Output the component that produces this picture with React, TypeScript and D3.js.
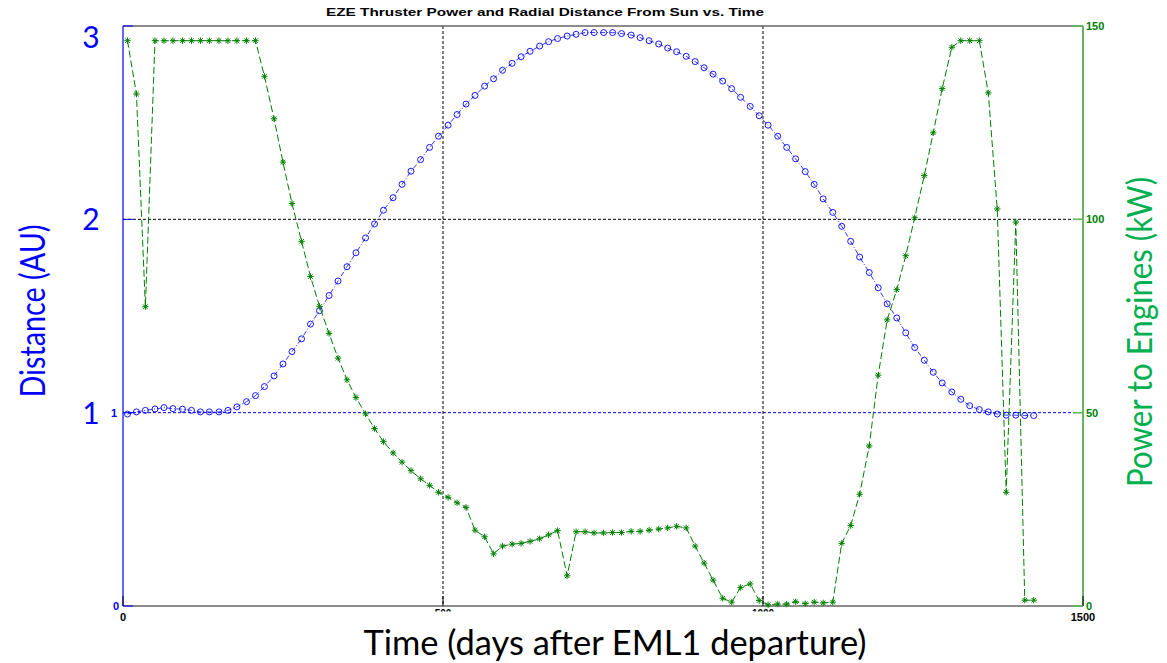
import {useEffect, useRef} from "react";
import * as d3 from "d3";

// Sample times (days after departure)
const days = [
    7, 21, 35, 50, 64, 78, 93, 107, 121, 135,
    150, 164, 178, 193, 207, 221, 236, 250, 264, 279,
    293, 307, 322, 336, 350, 364, 379, 393, 407, 422,
    436, 450, 465, 479, 493, 508, 522, 536, 550, 565,
    579, 593, 608, 622, 636, 651, 665, 679, 694, 708,
    722, 736, 751, 765, 779, 794, 808, 822, 837, 851,
    865, 880, 894, 908, 922, 937, 951, 965, 980, 994,
    1008, 1023, 1037, 1051, 1066, 1080, 1094, 1109, 1123, 1137,
    1151, 1166, 1180, 1194, 1209, 1223, 1237, 1252, 1266, 1280,
    1295, 1309, 1323, 1338, 1352, 1366, 1380, 1395, 1409, 1423
];

// Radial distance from sun (AU)
const distanceAU = [
    0.993, 1.004, 1.012, 1.019, 1.026, 1.021, 1.018, 1.012, 1.004, 1.004,
    1.004, 1.012, 1.030, 1.057, 1.088, 1.135, 1.190, 1.252, 1.316, 1.382,
    1.458, 1.527, 1.606, 1.681, 1.755, 1.827, 1.904, 1.976, 2.047, 2.112,
    2.181, 2.249, 2.309, 2.372, 2.430, 2.487, 2.542, 2.596, 2.641, 2.689,
    2.727, 2.771, 2.807, 2.841, 2.869, 2.896, 2.919, 2.935, 2.948, 2.957,
    2.966, 2.966, 2.966, 2.966, 2.961, 2.953, 2.940, 2.924, 2.907, 2.886,
    2.867, 2.843, 2.816, 2.784, 2.751, 2.715, 2.676, 2.631, 2.584, 2.536,
    2.487, 2.430, 2.372, 2.313, 2.247, 2.181, 2.106, 2.036, 1.964, 1.886,
    1.805, 1.725, 1.646, 1.563, 1.490, 1.413, 1.337, 1.271, 1.209, 1.154,
    1.107, 1.069, 1.036, 1.016, 1.004, 0.993, 0.987, 0.987, 0.985, 0.985
];

// Power to engines (kW)
const powerKW = [
    146.2, 132.4, 77.4, 146.2, 146.2, 146.2, 146.2, 146.2, 146.2, 146.2,
    146.2, 146.2, 146.2, 146.2, 146.2, 137.0, 126.0, 114.8, 104.1, 94.3,
    85.2, 77.5, 70.5, 64.1, 58.5, 53.9, 49.7, 45.9, 42.5, 39.6,
    37.2, 35.0, 32.9, 31.2, 29.4, 28.1, 26.7, 25.5, 19.6, 17.9,
    13.5, 15.5, 16.0, 16.2, 16.7, 17.4, 18.4, 19.5, 7.8, 19.2,
    19.2, 18.9, 18.9, 19.0, 19.0, 19.3, 19.3, 19.6, 19.9, 20.2,
    20.6, 20.2, 15.5, 11.1, 6.7, 2.0, 1.0, 4.8, 5.7, 1.4,
    0.3, 0.5, 0.5, 1.1, 0.6, 1.0, 0.8, 1.0, 16.2, 20.8,
    28.9, 41.4, 59.7, 74.0, 81.8, 90.6, 100.4, 111.3, 122.4, 133.8,
    144.5, 146.2, 146.2, 146.2, 132.7, 102.7, 29.4, 99.3, 1.5, 1.5
];

const xTicks = [0, 500, 1000, 1500];
const distTicks = [0, 1, 2, 3];
const powerTicks = [0, 50, 100, 150];

const BLUE = "#0000ff";
const GREEN = "#008000";
const LABEL_GREEN = "#00b050";

const App = () => {
    const svgRef = useRef<SVGSVGElement>(null);

    useEffect(() => {
        const svg = d3.select(svgRef.current);
        svg.selectAll("*").remove();

        const left = 123, right = 1083, top = 26, bottom = 606;

        const x = d3.scaleLinear().domain([0, 1500]).range([left, right]);
        const yD = d3.scaleLinear().domain([0, 3]).range([bottom, top]);
        const yP = d3.scaleLinear().domain([0, 150]).range([bottom, top]);

        svg.append("rect")
            .attr("width", 1167).attr("height", 663).attr("fill", "#fff");

        // grid
        [500, 1000].forEach(v => {
            svg.append("line")
                .attr("x1", x(v)).attr("x2", x(v))
                .attr("y1", top).attr("y2", bottom)
                .attr("stroke", "#000").attr("stroke-width", 1)
                .attr("stroke-dasharray", "3,2");
        });
        svg.append("line")
            .attr("x1", left).attr("x2", right)
            .attr("y1", yD(2)).attr("y2", yD(2))
            .attr("stroke", "#000").attr("stroke-width", 1)
            .attr("stroke-dasharray", "3,2");
        svg.append("line")
            .attr("x1", left).attr("x2", right)
            .attr("y1", yD(1)).attr("y2", yD(1))
            .attr("stroke", BLUE).attr("stroke-width", 1)
            .attr("stroke-dasharray", "3,2");

        // frame
        svg.append("line")
            .attr("x1", left).attr("x2", right).attr("y1", top).attr("y2", top)
            .attr("stroke", "#666").attr("stroke-width", 1.5);
        svg.append("line")
            .attr("x1", left).attr("x2", right).attr("y1", bottom).attr("y2", bottom)
            .attr("stroke", "#666").attr("stroke-width", 1.5);
        svg.append("line")
            .attr("x1", left).attr("x2", left).attr("y1", top).attr("y2", bottom)
            .attr("stroke", BLUE).attr("stroke-width", 1.2);
        svg.append("line")
            .attr("x1", right).attr("x2", right).attr("y1", top).attr("y2", bottom)
            .attr("stroke", GREEN).attr("stroke-width", 1.2);

        // ticks
        xTicks.forEach(v => {
            svg.append("line")
                .attr("x1", x(v)).attr("x2", x(v))
                .attr("y1", bottom).attr("y2", bottom - 10)
                .attr("stroke", "#000").attr("stroke-width", 1);
        });
        distTicks.forEach(v => {
            svg.append("line")
                .attr("x1", left).attr("x2", left + 10)
                .attr("y1", yD(v)).attr("y2", yD(v))
                .attr("stroke", BLUE).attr("stroke-width", 1);
        });
        powerTicks.forEach(v => {
            svg.append("line")
                .attr("x1", right - 10).attr("x2", right)
                .attr("y1", yP(v)).attr("y2", yP(v))
                .attr("stroke", "#5cbf5c").attr("stroke-width", 1.5);
        });

        // tick labels (500 / 1000 are mostly hidden behind the axis title box)
        const tickFont = "'Liberation Sans', Arial, sans-serif";
        svg.append("defs").append("clipPath").attr("id", "hiddenTicks")
            .append("rect").attr("x", 0).attr("y", 609).attr("width", 1167).attr("height", 2.5);
        xTicks.forEach(v => {
            const hidden = v === 500 || v === 1000;
            svg.append("text")
                .attr("x", x(v)).attr("y", hidden ? 617 : 621)
                .attr("text-anchor", "middle")
                .attr("font-family", tickFont).attr("font-weight", "bold")
                .attr("font-size", hidden ? 10 : 11).attr("fill", "#000")
                .attr("clip-path", hidden ? "url(#hiddenTicks)" : null)
                .text(v);
        });
        svg.append("text")
            .attr("x", left - 4).attr("y", yD(0) + 4)
            .attr("text-anchor", "end")
            .attr("font-family", tickFont).attr("font-weight", "bold")
            .attr("font-size", 11).attr("fill", BLUE).text("0");
        svg.append("text")
            .attr("x", left - 6).attr("y", yD(1) + 4)
            .attr("text-anchor", "end")
            .attr("font-family", tickFont).attr("font-weight", "bold")
            .attr("font-size", 11).attr("fill", BLUE).text("1");
        powerTicks.forEach(v => {
            svg.append("text")
                .attr("x", right + 3).attr("y", yP(v) + 4)
                .attr("font-family", tickFont).attr("font-weight", "bold")
                .attr("font-size", 11).attr("fill", GREEN)
                .text(v);
        });

        // big distance labels
        distTicks.filter(v => v > 0).forEach(v => {
            svg.append("text")
                .attr("x", 91).attr("y", v === 3 ? yD(v) + 22 : yD(v) + 11)
                .attr("text-anchor", "middle")
                .attr("font-family", "Lato, 'Open Sans', sans-serif")
                .attr("font-size", 30).attr("fill", BLUE)
                .text(v);
        });

        // title
        svg.append("text")
            .attr("x", 545).attr("y", 16)
            .attr("text-anchor", "middle")
            .attr("font-family", tickFont).attr("font-weight", "bold")
            .attr("font-size", 11).attr("fill", "#000")
            .attr("textLength", 438).attr("lengthAdjust", "spacingAndGlyphs")
            .text("EZE Thruster Power and Radial Distance From Sun vs. Time");

        // axis titles
        svg.append("text")
            .attr("x", 615).attr("y", 655)
            .attr("text-anchor", "middle")
            .attr("font-family", "Lato, 'Open Sans', sans-serif")
            .attr("font-size", 34).attr("fill", "#000")
            .attr("textLength", 503).attr("lengthAdjust", "spacingAndGlyphs")
            .text("Time (days after EML1 departure)");
        svg.append("text")
            .attr("transform", "translate(45,311) rotate(-90)")
            .attr("text-anchor", "middle")
            .attr("font-family", "Lato, 'Open Sans', sans-serif")
            .attr("font-size", 34).attr("fill", BLUE)
            .attr("textLength", 173).attr("lengthAdjust", "spacingAndGlyphs")
            .text("Distance (AU)");
        svg.append("text")
            .attr("transform", "translate(1152,332) rotate(-90)")
            .attr("text-anchor", "middle")
            .attr("font-family", "Lato, 'Open Sans', sans-serif")
            .attr("font-size", 34).attr("fill", LABEL_GREEN)
            .attr("textLength", 310).attr("lengthAdjust", "spacingAndGlyphs")
            .text("Power to Engines (kW)");

        // distance series: dash-dot with circles
        const distPts = days.map((d, i) => [x(d), yD(distanceAU[i])] as [number, number]);
        svg.append("path")
            .attr("d", d3.line()(distPts))
            .attr("fill", "none").attr("stroke", BLUE).attr("stroke-width", 0.8)
            .attr("stroke-dasharray", "5,2,1,2");
        svg.append("g").selectAll("circle")
            .data(distPts).enter().append("circle")
            .attr("cx", d => d[0]).attr("cy", d => d[1]).attr("r", 3)
            .attr("fill", "none").attr("stroke", BLUE).attr("stroke-width", 0.9);

        // power series: dashed with stars
        const powPts = days.map((d, i) => [x(d), yP(powerKW[i])] as [number, number]);
        svg.append("path")
            .attr("d", d3.line()(powPts))
            .attr("fill", "none").attr("stroke", GREEN).attr("stroke-width", 1)
            .attr("stroke-dasharray", "7,3");
        const s = 3.2, t = 2.3;
        svg.append("g").selectAll("path")
            .data(powPts).enter().append("path")
            .attr("d", d => `M${d[0] - s},${d[1]}h${2 * s}M${d[0]},${d[1] - s}v${2 * s}` +
                `M${d[0] - t},${d[1] - t}l${2 * t},${2 * t}M${d[0] - t},${d[1] + t}l${2 * t},${-2 * t}`)
            .attr("fill", "none").attr("stroke", GREEN).attr("stroke-width", 1);
    }, []);

    return (
        <svg ref={svgRef} width={1167} height={663}
             style={{position: "absolute", left: 0, top: 0, display: "block"}} />
    );
};

export default App;
